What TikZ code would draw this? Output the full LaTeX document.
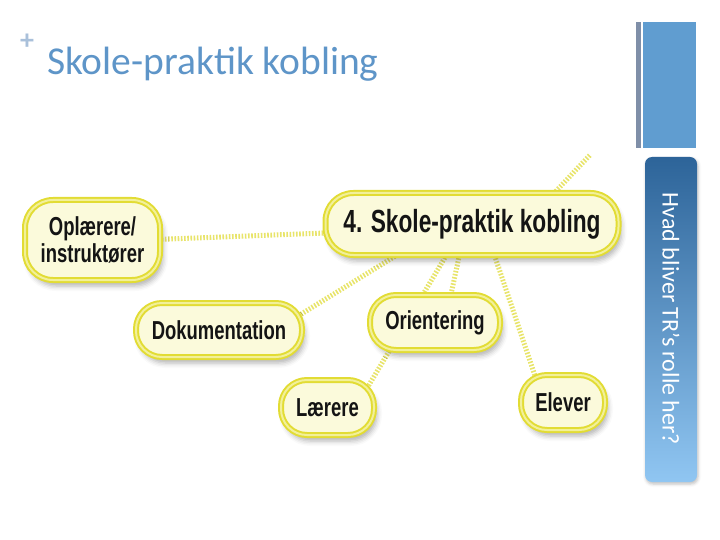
\documentclass[tikz,border=0pt]{standalone}
\usepackage{fontspec}
\setmainfont{Carlito}
\newfontfamily\boxfont[FakeStretch=0.71]{Liberation Sans}
\usetikzlibrary{shadows,shadows.blur,calc,backgrounds}
\definecolor{titleblue}{HTML}{5E95C8}
\definecolor{plusblue}{HTML}{A9C0DA}
\definecolor{bargray}{HTML}{7F8FA8}
\definecolor{barblue}{HTML}{609DD0}
\definecolor{sidetop}{HTML}{2D6499}
\definecolor{sidebot}{HTML}{90C6F2}
\definecolor{ringyellow}{HTML}{E2DC34}
\definecolor{ringinner}{HTML}{F2F09A}
\definecolor{boxfill}{HTML}{FBFADB}
\definecolor{linkyellow}{HTML}{E8E46A}
\tikzset{
  bubble/.style={rectangle, rounded corners=#1, draw=ringyellow, line width=6pt, fill=boxfill,
    inner sep=0pt, align=center, text=black!92, font=\boxfont\bfseries\fontsize{26}{27}\selectfont,
    blur shadow={shadow xshift=3pt, shadow yshift=-6pt, shadow blur radius=5pt, shadow opacity=30},
    postaction={draw=ringinner, line width=2pt}},
  bubble/.default=26pt,
  link/.style={draw=linkyellow, line width=5pt, dash pattern=on 1.6pt off 1.6pt}
}
\begin{document}
\begin{tikzpicture}[x=1pt,y=-1pt]
\useasboundingbox (0,0) rectangle (720,540);
% header
\node[font=\bfseries\fontsize{28}{28}\selectfont, text=plusblue] (plus) at (27,42) {+};
\node[anchor=base west, inner sep=0pt, font=\fontsize{39.5}{41}\selectfont, text=titleblue] (title) at (47,75) {Skole-praktik kobling};
\fill[bargray] (636,22) rectangle (641,148);
\fill[barblue] (643,22) rectangle (696,148);
\shade[top color=sidetop, bottom color=sidebot, rounded corners=7pt, blur shadow={shadow xshift=1pt, shadow yshift=-2pt, shadow blur radius=3pt, shadow opacity=25}] (645,157) rectangle (697,482);
\node[rotate=-90, text=white, font=\fontsize{24}{25}\selectfont] (side) at (671,319) {Hvad bliver TR’s rolle her?};
% nodes
\node[bubble=28pt, minimum width=293pt, minimum height=62pt, font=\boxfont\bfseries\fontsize{32}{34}\selectfont] (ctr) at (472,224) {4. Skole-praktik kobling};
\node[bubble=28pt, minimum width=135pt, minimum height=80pt] (opl) at (92.5,240) {Oplærere/\\instruktører};
\node[bubble, minimum width=166pt, minimum height=54pt] (doc) at (219,330) {Dokumentation};
\node[bubble, minimum width=130pt, minimum height=55pt] (ori) at (435,322.5) {Orientering};
\node[bubble, minimum width=93pt, minimum height=55pt] (lae) at (327.5,407.5) {Lærere};
\node[bubble, minimum width=84pt, minimum height=55pt] (ele) at (563,402.5) {Elever};
\coordinate (up) at (590,155);
% connectors
\begin{scope}[on background layer]
\draw[link] ($(opl.center)+(50,0)$) -- ($(ctr.center)+(-120,8)$);
\draw[link] ($(doc.center)+(71,-9)$) -- ($(ctr.center)+(-62,23)$);
\draw[link] ($(lae.center)+(28,0)$) -- ($(ctr.center)+(-7,0)$);
\draw[link] ($(ori.center)+(10,0)$) -- ($(ctr.center)+(-6,0)$);
\draw[link] ($(ele.center)+(-19,0)$) -- ($(ctr.center)+(12,0)$);
\draw[link] ($(ctr.center)+(53,0)$) -- (up);
\end{scope}
\end{tikzpicture}
\end{document}
